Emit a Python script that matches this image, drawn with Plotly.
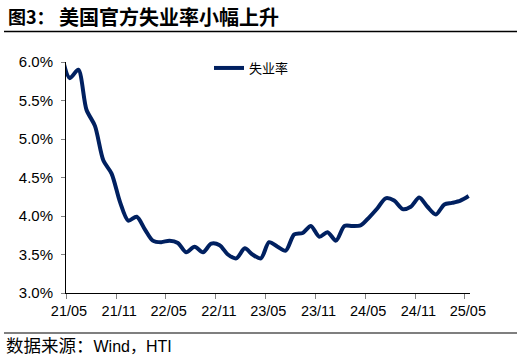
import pandas as pd
import plotly.graph_objects as go

# Monthly US unemployment rate (%), 2021/04 .. 2025/05 (first point lies just left of the axis)
months = pd.date_range("2021-04-01", "2025-05-01", freq="MS") + pd.Timedelta(days=14)
unemployment = [
    6.1,                                                   # 21/04
    5.79, 5.9, 5.38, 5.17, 4.72, 4.55, 4.18, 3.94,         # 21/05 - 21/12
    3.99, 3.82, 3.68, 3.66, 3.68, 3.65, 3.53, 3.6, 3.53, 3.64, 3.62, 3.5,   # 2022
    3.45, 3.58, 3.5, 3.45, 3.66, 3.6, 3.55, 3.76, 3.78, 3.87, 3.73, 3.79,  # 2023
    3.68, 3.87, 3.87, 3.88, 3.98, 4.1, 4.23, 4.2, 4.09, 4.12, 4.24, 4.12,  # 2024
    4.02, 4.15, 4.17, 4.2, 4.26,                            # 2025/01 - 2025/05
]
series_name = "失业率"
title_prefix = "图3："
title_text = "美国官方失业率小幅上升"
source_cjk = "数据来源："
source_latin = "Wind，HTI"

FONT = "Liberation Sans, Arial, Noto Sans CJK SC"
W, H = 532, 361
ML, MR, MT, MB = 66, 62, 62, 68
PW, PH = W - ML - MR, H - MT - MB

def px(x):
    return (x - ML) / PW

def py(y):
    return (H - MB - y) / PH

fig = go.Figure()
fig.add_trace(go.Scatter(
    x=months, y=unemployment, name=series_name, mode="lines",
    line=dict(color="#002060", width=4, shape="spline", smoothing=0.8),
))

fig.update_layout(
    width=W, height=H,
    margin=dict(l=ML, r=MR, t=MT, b=MB),
    paper_bgcolor="white", plot_bgcolor="white",
    font=dict(family=FONT, size=14, color="#000000"),
    showlegend=True,
    legend=dict(x=px(209), y=py(68), xanchor="left", yanchor="middle",
                bgcolor="rgba(0,0,0,0)", font=dict(size=13, family="Noto Sans CJK SC")),
    xaxis=dict(
        type="date", range=["2021-05-01", "2025-05-20"],
        tick0="2021-05-01", dtick="M6", tickformat="%y/%m",
        ticks="outside", ticklen=5, tickcolor="#808080",
        showline=True, linecolor="#000000", linewidth=1,
        showgrid=False, zeroline=False, ticklabelshift=3,
        tickfont=dict(size=14.5, family=FONT),
    ),
    yaxis=dict(
        range=[3.0, 6.0], dtick=0.5, tickformat=".1f", ticksuffix="%",
        ticks="outside", ticklen=4, tickcolor="#808080",
        showline=True, linecolor="#000000", linewidth=1,
        showgrid=False, zeroline=False, ticklabelstandoff=5,
        tickfont=dict(size=15, family=FONT),
    ),
    shapes=[
        dict(type="line", xref="paper", yref="paper", x0=px(4), x1=px(517),
             y0=py(31.5), y1=py(31.5), line=dict(color="#000000", width=1.5)),
        dict(type="line", xref="paper", yref="paper", x0=px(4), x1=px(517),
             y0=py(333), y1=py(333), line=dict(color="#000000", width=1.2)),
    ],
    annotations=[
        dict(text="<b>" + title_prefix + "</b>", xref="paper", yref="paper",
             x=px(6), y=py(16), xanchor="left", yanchor="middle", showarrow=False,
             font=dict(size=18, family="Noto Sans CJK SC", color="#000000")),
        dict(text="<b>" + title_text + "</b>", xref="paper", yref="paper",
             x=px(57), y=py(16), xanchor="left", yanchor="middle", showarrow=False,
             font=dict(size=20, family="Noto Sans CJK SC", color="#000000")),
        dict(text='<span style="font-size:17.5px">' + source_cjk + "</span>" + source_latin,
             xref="paper", yref="paper",
             x=px(4), y=py(346), xanchor="left", yanchor="middle", showarrow=False,
             font=dict(size=16, family=FONT, color="#000000")),
    ],
)

fig.write_html("out.html", config={"displayModeBar": False},
               post_script="document.body.style.margin='0';document.body.style.overflow='hidden';")
